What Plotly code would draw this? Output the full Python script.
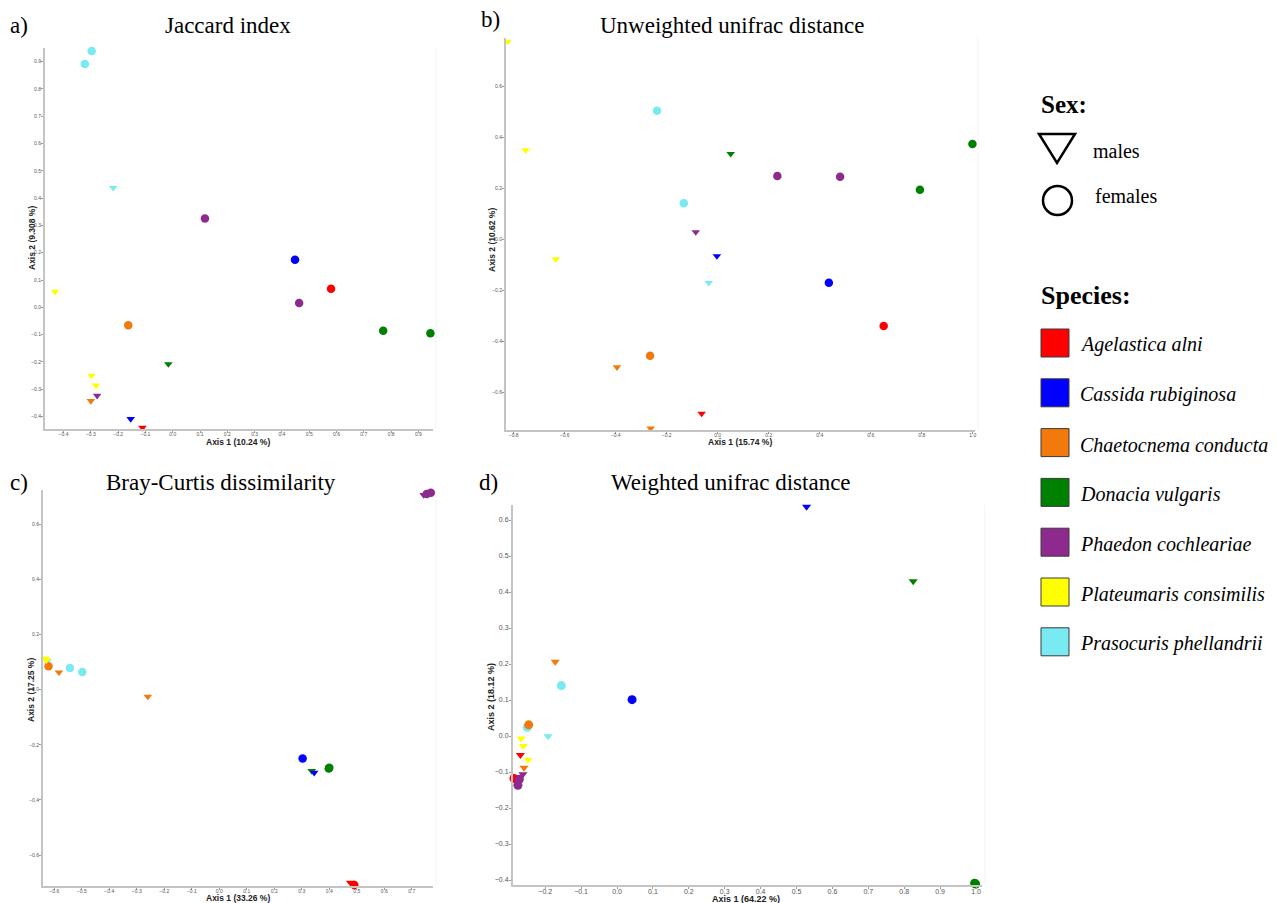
import plotly.graph_objects as go

W, H = 1279, 903

# ---- samples (shared by all four ordinations) ----
species = ["Prasocuris phellandrii"] * 3 + ["Donacia vulgaris"] * 3 + ["Agelastica alni"] * 2 \
    + ["Cassida rubiginosa"] * 2 + ["Chaetocnema conducta"] * 3 + ["Phaedon cochleariae"] * 3 \
    + ["Plateumaris consimilis"] * 3
sex = ["F", "F", "M",  "F", "F", "M",  "F", "M",  "F", "M",  "F", "M", "M",  "F", "F", "M",  "M", "M", "M"]

legend_species = ["Agelastica alni", "Cassida rubiginosa", "Chaetocnema conducta", "Donacia vulgaris",
                  "Phaedon cochleariae", "Plateumaris consimilis", "Prasocuris phellandrii"]
species_colors = ["#FF0000", "#0000FF", "#F27A0C", "#008000", "#8E2A8E", "#FFFF00", "#79E9F2"]

# ---- PCoA coordinates ----
jaccard_x = [-0.297, -0.322, -0.218, 0.771, 0.944, -0.016, 0.580, -0.111, 0.448, -0.154,
             -0.163, -0.300, -0.469, 0.118, 0.463, -0.277, -0.431, -0.298, -0.281]
jaccard_y = [0.939, 0.891, 0.438, -0.086, -0.095, -0.208, 0.068, -0.441, 0.174, -0.409,
             -0.066, -0.343, -0.420, 0.325, 0.016, -0.324, 0.057, -0.250, -0.286]

unweighted_x = [-0.238, -0.133, -0.035, 0.999, 0.793, 0.051, 0.651, -0.063, 0.436, -0.003,
                -0.265, -0.395, -0.263, 0.234, 0.480, -0.086, -0.824, -0.753, -0.635]
unweighted_y = [0.506, 0.143, -0.169, 0.375, 0.196, 0.337, -0.338, -0.682, -0.169, -0.064,
                -0.455, -0.500, -0.740, 0.250, 0.247, 0.030, 0.777, 0.351, -0.076]

bray_x = [-0.543, -0.498, -0.625, 0.400, 0.398, 0.336, 0.491, 0.476, 0.303, 0.345,
          -0.621, -0.583, -0.260, 0.754, 0.769, 0.743, -0.634, -0.632, -0.628]
bray_y = [0.079, 0.064, 0.105, -0.283, -0.286, -0.295, -0.709, -0.700, -0.250, -0.301,
          0.085, 0.063, -0.025, 0.710, 0.715, 0.707, 0.114, 0.110, 0.107]

weighted_x = [-0.155, -0.250, -0.192, 0.999, 0.996, 0.825, -0.287, -0.269, 0.042, 0.528,
              -0.246, -0.172, -0.259, -0.272, -0.276, -0.262, -0.267, -0.261, -0.248]
weighted_y = [0.140, 0.024, -0.001, -0.411, -0.409, 0.430, -0.118, -0.053, 0.101, 0.637,
              0.031, 0.206, -0.088, -0.120, -0.137, -0.106, -0.007, -0.028, -0.066]

panels = [
    dict(tag="a)", title="Jaccard index", x=jaccard_x, y=jaccard_y,
         xlab="Axis 1 (10.24 %)", ylab="Axis 2 (9.308 %)"),
    dict(tag="b)", title="Unweighted unifrac distance", x=unweighted_x, y=unweighted_y,
         xlab="Axis 1 (15.74 %)", ylab="Axis 2 (10.62 %)"),
    dict(tag="c)", title="Bray-Curtis dissimilarity", x=bray_x, y=bray_y,
         xlab="Axis 1 (33.26 %)", ylab="Axis 2 (17.25 %)"),
    dict(tag="d)", title="Weighted unifrac distance", x=weighted_x, y=weighted_y,
         xlab="Axis 1 (64.22 %)", ylab="Axis 2 (18.12 %)"),
]

# plot boxes in pixels (left, right, top, bottom), axis ranges and tick settings
boxes = [(45, 433, 48, 429), (506, 975, 38, 430), (43, 433, 490, 886), (513, 982, 505, 885)]
xranges = [(-0.468, 0.9535), (-0.830, 1.009), (-0.641, 0.777), (-0.2897, 1.0167)]
yranges = [(-0.4458, 0.950), (-0.7463, 0.791), (-0.7125, 0.7249), (-0.4139, 0.6417)]
xdticks = [0.1, 0.2, 0.1, 0.1]
ydticks = [0.1, 0.2, 0.2, 0.1]
tick_sizes = [5, 5, 5, 7]
title_pos = [(228, 25), (732, 25), (221, 483), (731, 483)]
tag_pos = [(19, 25), (490, 20), (19, 482), (488, 482)]
xlab_pos = [(238, 442), (740, 442), (238, 898), (746, 899)]
ylab_pos = [(32, 238), (492, 240), (31, 690), (491, 697)]
label_sizes = [8.5, 8.5, 8.5, 9]


def px(x):
    return x / W


def py(y):
    return 1 - y / H


color_of = dict(zip(legend_species, species_colors))

fig = go.Figure()
annotations = []
shapes = []

for i, p in enumerate(panels):
    n = "" if i == 0 else str(i + 1)
    l, r, t, b = boxes[i]
    big = i == 3
    sizes = [(9 if big else 8.5) if s == "F" else (8 if big else 7.5) for s in sex]
    fig.add_trace(go.Scatter(
        x=p["x"], y=p["y"], mode="markers", xaxis="x" + n, yaxis="y" + n,
        showlegend=False, hoverinfo="skip", cliponaxis=False,
        marker=dict(symbol=["circle" if s == "F" else "triangle-down" for s in sex],
                    color=[color_of[s] for s in species], size=sizes, opacity=1,
                    line=dict(width=0)),
    ))
    axis_common = dict(showgrid=False, zeroline=False, showline=True, linecolor="#c4c4c4",
                       linewidth=2, ticks="outside", ticklen=2, tickcolor="#9a9a9a", tickwidth=1,
                       tickformat=".1f",
                       tickfont=dict(family="Liberation Sans", size=tick_sizes[i], color="#555555"))
    fig.layout["xaxis" + n] = dict(axis_common, domain=[px(l), px(r)], range=list(xranges[i]),
                                   anchor="y" + n, dtick=xdticks[i], tick0=0,
                                   ticklabelstandoff=-3)
    fig.layout["yaxis" + n] = dict(axis_common, domain=[py(b), py(t)], range=list(yranges[i]),
                                   anchor="x" + n, dtick=ydticks[i], tick0=0,
                                   ticklabelstandoff=-1)
    # faint right border of the plotting area
    shapes.append(dict(type="line", xref="paper", yref="paper", x0=px(r + 3), x1=px(r + 3),
                       y0=py(b), y1=py(t), line=dict(color="#f2f2f2", width=1)))

    annotations.append(dict(text=p["title"], x=px(title_pos[i][0]), y=py(title_pos[i][1]),
                            xref="paper", yref="paper", showarrow=False, xanchor="center",
                            yanchor="middle",
                            font=dict(family="Liberation Serif", size=23, color="#000")))
    annotations.append(dict(text=p["tag"], x=px(tag_pos[i][0]), y=py(tag_pos[i][1]),
                            xref="paper", yref="paper", showarrow=False, xanchor="center",
                            yanchor="middle",
                            font=dict(family="Liberation Serif", size=23, color="#000")))
    annotations.append(dict(text="<b>" + p["xlab"] + "</b>", x=px(xlab_pos[i][0]),
                            y=py(xlab_pos[i][1]), xref="paper", yref="paper", showarrow=False,
                            xanchor="center", yanchor="middle",
                            font=dict(family="Liberation Sans", size=label_sizes[i], color="#222")))
    annotations.append(dict(text="<b>" + p["ylab"] + "</b>", x=px(ylab_pos[i][0]),
                            y=py(ylab_pos[i][1]), xref="paper", yref="paper", showarrow=False,
                            xanchor="center", yanchor="middle", textangle=-90,
                            font=dict(family="Liberation Sans", size=label_sizes[i], color="#222")))

# ---- hand-built legend ----
annotations.append(dict(text="<b>Sex:</b>", x=px(1039), y=py(105), xref="paper", yref="paper",
                        showarrow=False, xanchor="left", yanchor="middle",
                        font=dict(family="Liberation Serif", size=25, color="#000")))
shapes.append(dict(type="path", xref="paper", yref="paper",
                   path="M {},{} L {},{} L {},{} Z".format(px(1039), py(134), px(1075), py(134),
                                                          px(1057), py(163)),
                   line=dict(color="#000", width=2.5), fillcolor="rgba(0,0,0,0)"))
annotations.append(dict(text="males", x=px(1091), y=py(151), xref="paper", yref="paper",
                        showarrow=False, xanchor="left", yanchor="middle",
                        font=dict(family="Liberation Serif", size=20, color="#000")))
shapes.append(dict(type="circle", xref="paper", yref="paper", x0=px(1043), x1=px(1072),
                   y0=py(215), y1=py(186), line=dict(color="#000", width=2.5)))
annotations.append(dict(text="females", x=px(1093), y=py(196), xref="paper", yref="paper",
                        showarrow=False, xanchor="left", yanchor="middle",
                        font=dict(family="Liberation Serif", size=20, color="#000")))

annotations.append(dict(text="<b>Species:</b>", x=px(1039), y=py(295), xref="paper", yref="paper",
                        showarrow=False, xanchor="left", yanchor="middle",
                        font=dict(family="Liberation Serif", size=26, color="#000")))
for k, (name, col) in enumerate(zip(legend_species, species_colors)):
    top = 329 + 49.8 * k
    shapes.append(dict(type="rect", xref="paper", yref="paper", x0=px(1041), x1=px(1069),
                       y0=py(top + 28), y1=py(top), fillcolor=col,
                       line=dict(color="#3a3a3a", width=1)))
    annotations.append(dict(text="<i>" + name + "</i>", x=px(1078), y=py(top + 16),
                            xref="paper", yref="paper", showarrow=False, xanchor="left",
                            yanchor="middle",
                            font=dict(family="Liberation Serif", size=20, color="#000")))

fig.update_layout(width=W, height=H, autosize=False, margin=dict(l=0, r=0, t=0, b=0),
                  paper_bgcolor="white", plot_bgcolor="white",
                  annotations=annotations, shapes=shapes, showlegend=False)

fig.write_html("out.html", config={"displayModeBar": False})
